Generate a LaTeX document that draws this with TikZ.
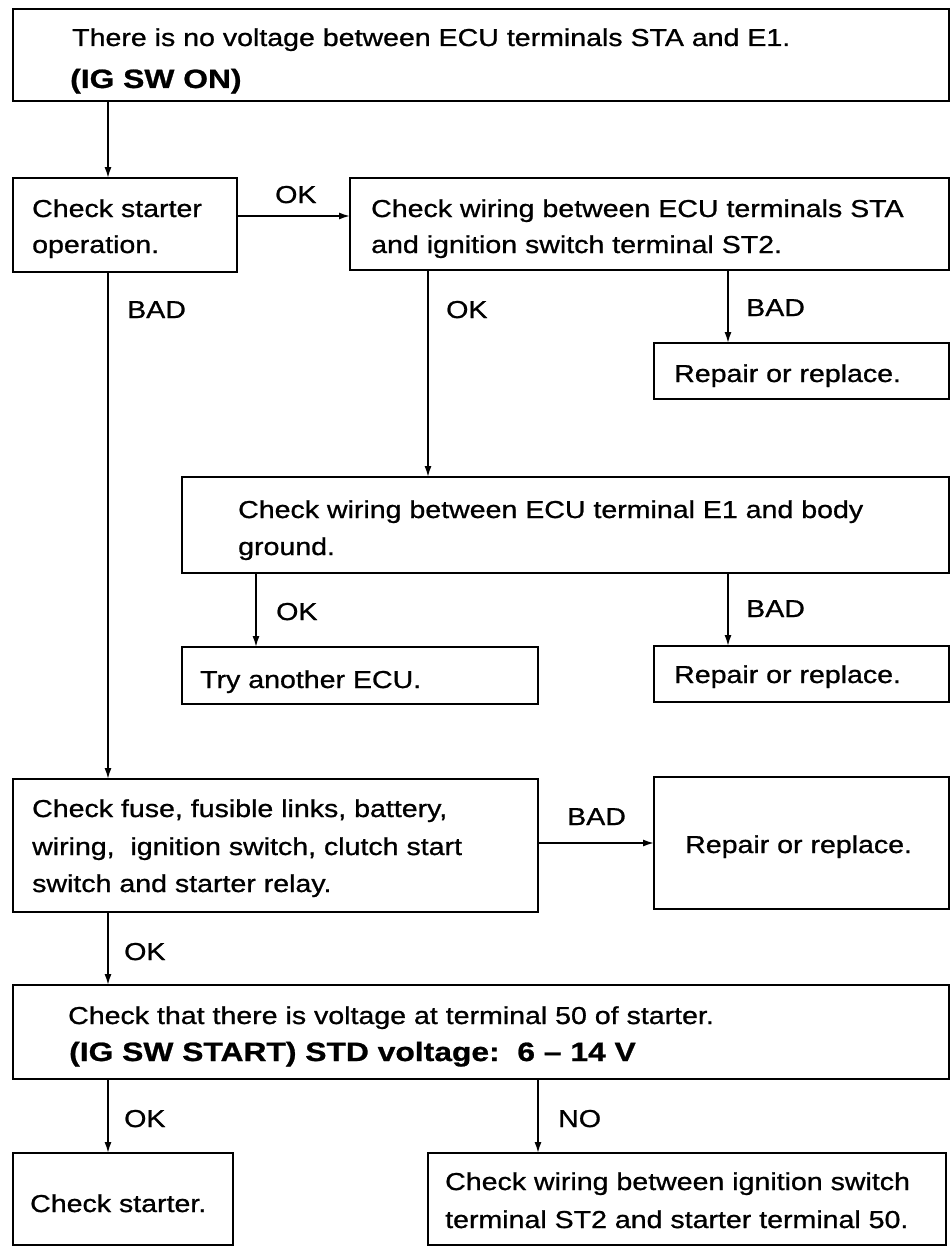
\documentclass[tikz,border=0pt]{standalone}
\usepackage{fontspec}
\setmainfont[FakeStretch=1.165, FakeBold=0.9, BoldFeatures={FakeStretch=1.2}]{Liberation Sans}
\usetikzlibrary{arrows.meta}
\begin{document}
\begin{tikzpicture}[x=1pt,y=-1pt,
  box/.style={draw, line width=2.6pt, rectangle, inner sep=0pt, outer sep=0pt, anchor=north west},
  txt/.style={anchor=base west, inner sep=0pt, font=\fontsize{24.5}{30}\selectfont},
  btxt/.style={anchor=base west, inner sep=0pt, font=\fontsize{26.5}{32}\selectfont\bfseries},
  lbl/.style={anchor=base west, inner sep=0pt, font=\fontsize{24.5}{30}\selectfont},
  arr/.style={line width=1.6pt, -{Latex[length=11pt,width=7pt]}}]
\useasboundingbox[fill=white] (0,0) rectangle (951,1247);

% column positions for the vertical connectors
\coordinate (cA) at (108,0);
\coordinate (cB) at (428,0);
\coordinate (cC) at (728,0);
\coordinate (cD) at (256,0);
\coordinate (cE) at (538,0);
\coordinate (rA) at (0,216);
\coordinate (rB) at (0,843);

% boxes
\node[box, minimum width=936pt, minimum height=92pt] (top) at (13,9) {};
\node[box, minimum width=224pt, minimum height=94pt] (starter) at (13,178) {};
\node[box, minimum width=599pt, minimum height=92pt] (wiring) at (350,178) {};
\node[box, minimum width=295pt, minimum height=56pt] (rep1) at (654,343) {};
\node[box, minimum width=767pt, minimum height=96pt] (eone) at (182,477) {};
\node[box, minimum width=356pt, minimum height=57pt] (try) at (182,647) {};
\node[box, minimum width=295pt, minimum height=56pt] (rep2) at (654,646) {};
\node[box, minimum width=525pt, minimum height=133pt] (fuse) at (13,779) {};
\node[box, minimum width=295pt, minimum height=132pt] (rep3) at (654,777) {};
\node[box, minimum width=936pt, minimum height=94pt] (volt) at (13,985) {};
\node[box, minimum width=220pt, minimum height=92pt] (cstart) at (13,1153) {};
\node[box, minimum width=518pt, minimum height=92pt] (last) at (428,1153) {};

% box texts
\node[txt] (t1) at (72,46) {There is no voltage between ECU terminals STA and E1.};
\node[btxt] (t2) at (70,88) {(IG SW ON)};
\node[txt] (t3) at (32,217) {Check starter};
\node[txt] (t4) at (32,253) {operation.};
\node[txt] (t5) at (371,217) {Check wiring between ECU terminals STA};
\node[txt] (t6) at (371,253) {and ignition switch terminal ST2.};
\node[txt] (t7) at (674,382) {Repair or replace.};
\node[txt] (t8) at (238,518) {Check wiring between ECU terminal E1 and body};
\node[txt] (t9) at (238,555) {ground.};
\node[txt] (t10) at (200,688) {Try another ECU.};
\node[txt] (t11) at (674,683) {Repair or replace.};
\node[txt] (t12) at (32,817) {Check fuse, fusible links, battery,};
\node[txt] (t13) at (32,855) {wiring,\ \ ignition switch, clutch start};
\node[txt] (t14) at (32,892) {switch and starter relay.};
\node[txt] (t15) at (685,853) {Repair or replace.};
\node[txt] (t16) at (68,1024) {Check that there is voltage at terminal 50 of starter.};
\node[btxt] (t17) at (69,1061) {(IG SW START) STD voltage:\ \ 6 -- 14 V};
\node[txt] (t18) at (30,1212) {Check starter.};
\node[txt] (t19) at (445,1190) {Check wiring between ignition switch};
\node[txt] (t20) at (445,1228) {terminal ST2 and starter terminal 50.};

% connectors
\draw[arr] (top.south -| cA) -- (starter.north -| cA);
\draw[arr] (starter.east |- rA) -- (wiring.west |- rA);
\draw[arr] (starter.south -| cA) -- (fuse.north -| cA);
\draw[arr] (wiring.south -| cB) -- (eone.north -| cB);
\draw[arr] (wiring.south -| cC) -- (rep1.north -| cC);
\draw[arr] (eone.south -| cD) -- (try.north -| cD);
\draw[arr] (eone.south -| cC) -- (rep2.north -| cC);
\draw[arr] (fuse.east |- rB) -- (rep3.west |- rB);
\draw[arr] (fuse.south -| cA) -- (volt.north -| cA);
\draw[arr] (volt.south -| cA) -- (cstart.north -| cA);
\draw[arr] (volt.south -| cE) -- (last.north -| cE);

% connector labels
\node[lbl] (l1) at (275,203) {OK};
\node[lbl] (l2) at (127,318) {BAD};
\node[lbl] (l3) at (446,318) {OK};
\node[lbl] (l4) at (746,316) {BAD};
\node[lbl] (l5) at (276,620) {OK};
\node[lbl] (l6) at (746,617) {BAD};
\node[lbl] (l7) at (567,825) {BAD};
\node[lbl] (l8) at (124,960) {OK};
\node[lbl] (l9) at (124,1127) {OK};
\node[lbl] (l10) at (558,1127) {NO};
\end{tikzpicture}
\end{document}
